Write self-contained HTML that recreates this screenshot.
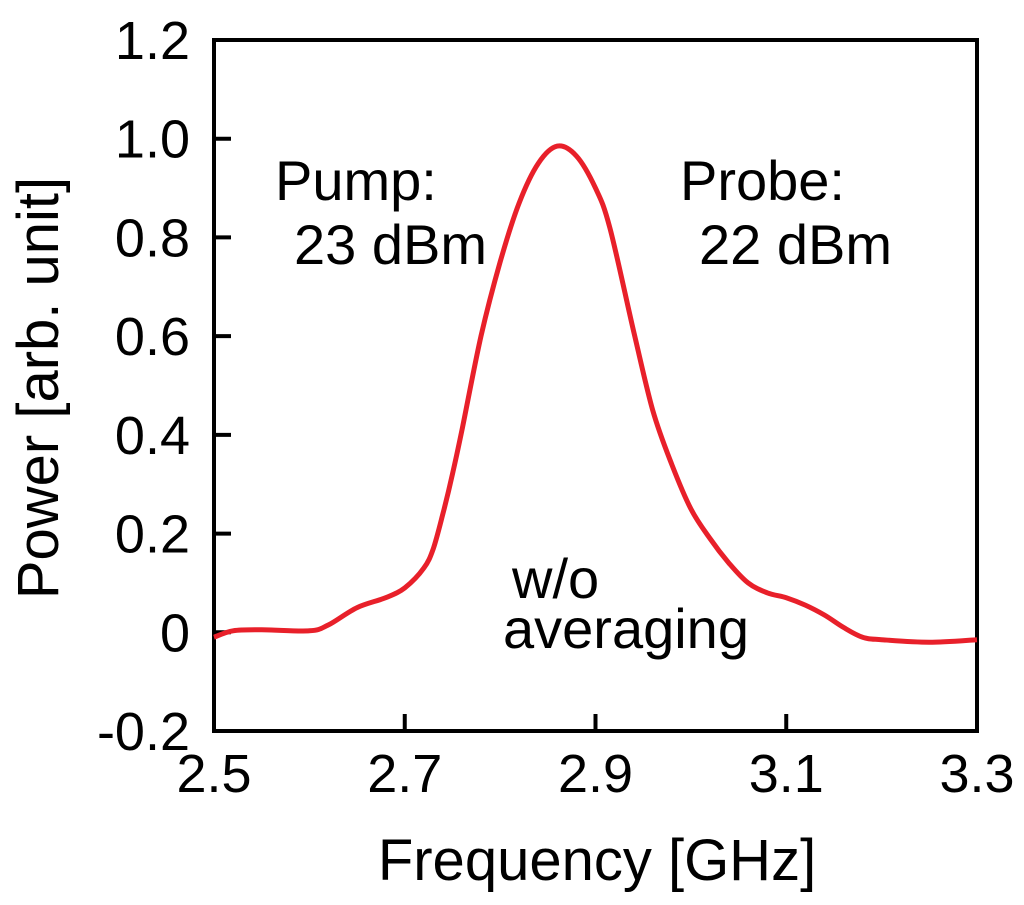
<!DOCTYPE html>
<html><head><meta charset="utf-8"><style>
body{margin:0;background:#fff}
svg text{font-family:"Liberation Sans",Arial,sans-serif;fill:#000}
</style></head><body>
<svg id="chart" width="1024" height="900" viewBox="0 0 1024 900">
<rect x="214" y="40" width="763" height="691" fill="none" stroke="#000" stroke-width="4"/>
<g id="ticks"></g>
<path id="curve" fill="none" stroke="#e8202a" stroke-width="5" stroke-linejoin="round"/>
<text x="275" y="200" font-size="56">Pump:</text>
<text x="294" y="264" font-size="56">23 dBm</text>
<text x="680" y="200" font-size="56">Probe:</text>
<text x="699" y="264" font-size="56">22 dBm</text>
<text x="512" y="598" font-size="56">w/o</text>
<text x="503" y="648" font-size="56">averaging</text>
<text x="597" y="880" font-size="58" text-anchor="middle">Frequency [GHz]</text>
<text transform="translate(58,388) rotate(-90)" font-size="58" text-anchor="middle">Power [arb. unit]</text>
</svg>
<script>
const freqs=[2.50,2.52,2.55,2.60,2.62,2.65,2.68,2.70,2.72,2.73,2.74,2.75,2.76,2.78,2.80,2.82,2.84,2.86,2.88,2.90,2.915,2.94,2.96,2.98,3.00,3.02,3.04,3.06,3.08,3.10,3.12,3.14,3.16,3.18,3.20,3.25,3.30];
const powers=[-0.01,0.003,0.005,0.003,0.015,0.05,0.07,0.09,0.13,0.17,0.24,0.32,0.41,0.60,0.75,0.87,0.95,0.985,0.965,0.90,0.82,0.61,0.45,0.34,0.25,0.19,0.14,0.10,0.08,0.07,0.055,0.035,0.01,-0.01,-0.015,-0.02,-0.015];
const xTicks=[2.5,2.7,2.9,3.1,3.3];
const xTickLabels=["2.5","2.7","2.9","3.1","3.3"];
const yTicks=[-0.2,0,0.2,0.4,0.6,0.8,1.0,1.2];
const yTickLabels=["-0.2","0","0.2","0.4","0.6","0.8","1.0","1.2"];
const X=v=>214+(v-2.5)/0.8*763;
const Y=v=>731-(v+0.2)/1.4*691;
const ns="http://www.w3.org/2000/svg";
const g=document.getElementById('ticks');
xTicks.forEach((t,i)=>{
  const l=document.createElementNS(ns,'line');
  l.setAttribute('x1',X(t));l.setAttribute('x2',X(t));l.setAttribute('y1',731);l.setAttribute('y2',714);
  l.setAttribute('stroke','#000');l.setAttribute('stroke-width','4');
  
  
  g.appendChild(l);
  const tx=document.createElementNS(ns,'text');
  tx.setAttribute('x',X(t));tx.setAttribute('y',792);tx.setAttribute('font-size','54');tx.setAttribute('text-anchor','middle');
  tx.textContent=xTickLabels[i];
  
  
  g.appendChild(tx);
});
yTicks.forEach((t,i)=>{
  const l=document.createElementNS(ns,'line');
  l.setAttribute('x1',214);l.setAttribute('x2',231);l.setAttribute('y1',Y(t));l.setAttribute('y2',Y(t));
  l.setAttribute('stroke','#000');l.setAttribute('stroke-width','4');
  
  
  g.appendChild(l);
  const tx=document.createElementNS(ns,'text');
  tx.setAttribute('x',190);tx.setAttribute('y',Y(t)+19);tx.setAttribute('font-size','54');tx.setAttribute('text-anchor','end');
  tx.textContent=yTickLabels[i];
  
  
  g.appendChild(tx);
});
const px=freqs.map(X), py=powers.map(Y);
let d='M'+px[0].toFixed(1)+','+py[0].toFixed(1);
for(let i=0;i<px.length-1;i++){
  const i0=Math.max(0,i-1), i3=Math.min(px.length-1,i+2);
  const c1x=px[i]+(px[i+1]-px[i0])/6, c1y=py[i]+(py[i+1]-py[i0])/6;
  const c2x=px[i+1]-(px[i3]-px[i])/6, c2y=py[i+1]-(py[i3]-py[i])/6;
  d+='C'+c1x.toFixed(1)+','+c1y.toFixed(1)+' '+c2x.toFixed(1)+','+c2y.toFixed(1)+' '+px[i+1].toFixed(1)+','+py[i+1].toFixed(1);
}
document.getElementById('curve').setAttribute('d',d);
</script>
</body></html>
